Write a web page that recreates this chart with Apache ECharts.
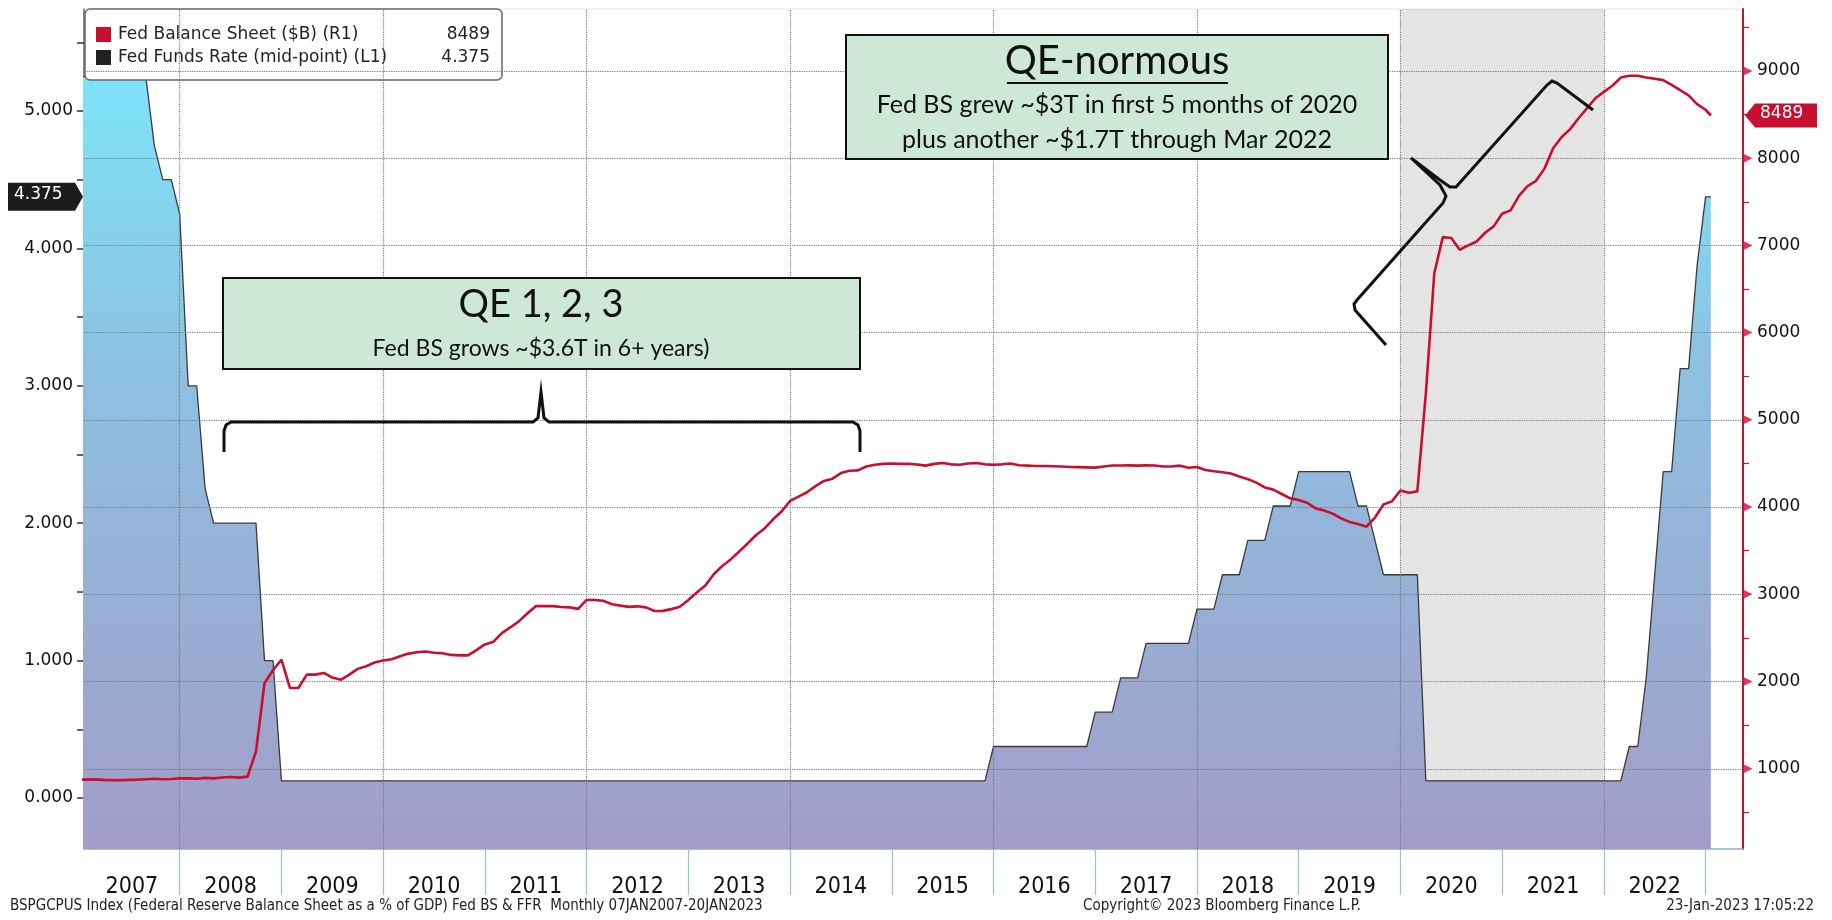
<!DOCTYPE html>
<html>
<head>
<meta charset="utf-8">
<style>
  html, body { margin: 0; padding: 0; background: #fff; }
  #main { width: 1832px; height: 920px; }
</style>
<script src="https://cdn.jsdelivr.net/npm/echarts/dist/echarts.min.js"></script>
</head>
<body>
<div id="main"></div>
<script>
// Fed balance sheet ($B), monthly Jan 2007 - Jan 2023
var bs2007 = [875, 878, 872, 870, 868, 872, 875, 880, 885, 880, 882, 890];
var bs2008 = [890, 885, 895, 890, 900, 905, 898, 910, 1200, 1980, 2130, 2250];
var bs2009 = [1926, 1926, 2079, 2079, 2098, 2045, 2020, 2079, 2145, 2175, 2218, 2240];
var bs2010 = [2255, 2290, 2320, 2335, 2345, 2330, 2325, 2305, 2300, 2300, 2360, 2425];
var bs2011 = [2455, 2555, 2620, 2690, 2780, 2864, 2864, 2864, 2855, 2850, 2833, 2935];
var bs2012 = [2935, 2925, 2885, 2870, 2856, 2862, 2850, 2808, 2810, 2830, 2857, 2935];
var bs2013 = [3020, 3100, 3230, 3325, 3400, 3490, 3583, 3680, 3755, 3860, 3950, 4070];
var bs2014 = [4120, 4170, 4240, 4300, 4326, 4390, 4416, 4421, 4465, 4485, 4495, 4500];
var bs2015 = [4495, 4495, 4488, 4475, 4495, 4505, 4490, 4485, 4500, 4505, 4490, 4485];
var bs2016 = [4490, 4500, 4480, 4475, 4470, 4470, 4468, 4465, 4460, 4458, 4455, 4452];
var bs2017 = [4465, 4477, 4477, 4478, 4475, 4478, 4476, 4465, 4465, 4475, 4450, 4460];
var bs2018 = [4425, 4410, 4400, 4385, 4350, 4320, 4280, 4225, 4200, 4150, 4100, 4080];
var bs2019 = [4050, 3985, 3960, 3925, 3870, 3830, 3805, 3775, 3880, 4030, 4065, 4190];
var bs2020 = [4165, 4180, 5300, 6680, 7095, 7084, 6950, 7000, 7045, 7145, 7218, 7363];
var bs2021 = [7401, 7570, 7680, 7740, 7880, 8110, 8240, 8330, 8455, 8570, 8687, 8760];
var bs2022 = [8830, 8924, 8945, 8945, 8925, 8910, 8895, 8840, 8780, 8720, 8620, 8555];
var bs2023 = [8489];

// Fed funds rate, mid-point of target range (%)
var ffr2007 = [5.25, 5.25, 5.25, 5.25, 5.25, 5.25, 5.25, 5.25, 4.75, 4.5, 4.5, 4.25];
var ffr2008 = [3.0, 3.0, 2.25, 2.0, 2.0, 2.0, 2.0, 2.0, 2.0, 1.0, 1.0, 0.125];
var ffr2009to2014 = 72; // months pinned at 0.125
var ffr2015 = [0.125, 0.125, 0.125, 0.125, 0.125, 0.125, 0.125, 0.125, 0.125, 0.125, 0.125, 0.375];
var ffr2016 = [0.375, 0.375, 0.375, 0.375, 0.375, 0.375, 0.375, 0.375, 0.375, 0.375, 0.375, 0.625];
var ffr2017 = [0.625, 0.625, 0.875, 0.875, 0.875, 1.125, 1.125, 1.125, 1.125, 1.125, 1.125, 1.375];
var ffr2018 = [1.375, 1.375, 1.625, 1.625, 1.625, 1.875, 1.875, 1.875, 2.125, 2.125, 2.125, 2.375];
var ffr2019 = [2.375, 2.375, 2.375, 2.375, 2.375, 2.375, 2.125, 2.125, 1.875, 1.625, 1.625, 1.625];
var ffr2020 = [1.625, 1.625, 0.125, 0.125, 0.125, 0.125, 0.125, 0.125, 0.125, 0.125, 0.125, 0.125];
var ffr2021 = [0.125, 0.125, 0.125, 0.125, 0.125, 0.125, 0.125, 0.125, 0.125, 0.125, 0.125, 0.125];
var ffr2022 = [0.125, 0.125, 0.375, 0.375, 0.875, 1.625, 2.375, 2.375, 3.125, 3.125, 3.875, 4.375];
var ffr2023 = [4.375];

// axis ticks / labels
var yearTicks = [2008, 2009, 2010, 2011, 2012, 2013, 2014, 2015, 2016, 2017, 2018, 2019, 2020, 2021, 2022, 2023];
var yearLabels = [2007.53, 2008.5, 2009.5, 2010.5, 2011.5, 2012.5, 2013.5, 2014.5, 2015.5, 2016.5, 2017.5, 2018.5, 2019.5, 2020.5, 2021.5, 2022.5];
var gridYears = [2008, 2010, 2012, 2014, 2016, 2018, 2020, 2022];
var leftLabels = [0, 1, 2, 3, 4, 5];
var leftTicks = [0, 0.5, 1, 1.5, 2, 2.5, 3, 3.5, 4, 4.5, 5, 5.5];
var rightLabels = [1000, 2000, 3000, 4000, 5000, 6000, 7000, 8000, 9000];
var rightMinor = [500, 1500, 2500, 3500, 4500, 5500, 6500, 7500, 8500, 9500];
var shadeRange = [2020, 2022];

var bsName = 'Fed Balance Sheet ($B) (R1)';
var ffrName = 'Fed Funds Rate (mid-point) (L1)';

var X_MIN = 2007.059, X_MAX = 2023.368;
var RED = '#c8102e';

// join the years
var bsData = [].concat(bs2007, bs2008, bs2009, bs2010, bs2011, bs2012, bs2013, bs2014,
    bs2015, bs2016, bs2017, bs2018, bs2019, bs2020, bs2021, bs2022, bs2023);
var ffrMid = [];
for (var k = 0; k < ffr2009to2014; k++) {
    ffrMid.push(0.125);
}
var ffrData = [].concat(ffr2007, ffr2008, ffrMid, ffr2015, ffr2016, ffr2017, ffr2018,
    ffr2019, ffr2020, ffr2021, ffr2022, ffr2023);

// month-end dates as decimal years (first 07JAN2007, last 20JAN2023)
var dates = [];
for (var i = 0; i < bsData.length; i++) {
    var yr = 2007 + Math.floor(i / 12);
    dates.push(yr + (i % 12 + 1) / 12);
}
dates[0] = 2007 + 6 / 365;
dates[dates.length - 1] = 2023 + 19 / 365;

var bsSeries = [], ffrSeries = [];
for (var j = 0; j < dates.length; j++) {
    bsSeries.push([dates[j], bsData[j]]);
    ffrSeries.push([dates[j], ffrData[j]]);
}
var lastBS = bsData[bsData.length - 1];
var lastFFR = ffrData[ffrData.length - 1];

var tri = rightLabels.map(function (v) { return [X_MAX, v]; });
var gridLines = gridYears.map(function (v) { return { xAxis: v }; })
    .concat(rightLabels.map(function (v) { return { yAxis: v }; }));

var chart = echarts.init(document.getElementById('main'));

var sansFont = 'DejaVu Sans';
var narrowFont = '"Liberation Sans Narrow", "DejaVu Sans Condensed", sans-serif';

var option = {
    animation: false,
    backgroundColor: '#fff',
    grid: {
        left: 84, right: 89, top: 9, bottom: 71,
        show: true, borderColor: '#e4e4e4', borderWidth: 1, backgroundColor: 'transparent'
    },
    legend: {
        left: 85, top: 9,
        orient: 'vertical',
        padding: [17, 12, 14, 11],
        itemGap: 6,
        itemWidth: 15, itemHeight: 15,
        backgroundColor: '#fff',
        borderColor: '#666', borderWidth: 1.5, borderRadius: 5,
        selectedMode: false,
        data: [
            { name: bsName, icon: 'rect', itemStyle: { color: RED, borderWidth: 0 } },
            { name: ffrName, icon: 'rect', itemStyle: { color: '#222', borderWidth: 0 } }
        ],
        formatter: function (name) {
            var v = name === bsName ? lastBS : lastFFR;
            return '{n|' + name + '}{v|' + v + '}';
        },
        textStyle: {
            rich: {
                n: { fontFamily: sansFont, fontSize: 17, color: '#222', width: 314, padding: [0, 0, 0, 2] },
                v: { fontFamily: sansFont, fontSize: 17, color: '#222', width: 58, align: 'right' }
            }
        }
    },
    xAxis: {
        type: 'value',
        min: X_MIN, max: X_MAX,
        axisLine: { onZero: false, lineStyle: { color: '#8fb3dc', width: 1.5 } },
        axisTick: { show: true, customValues: yearTicks, length: 46, lineStyle: { color: '#9dbde0', width: 1.2 } },
        axisLabel: {
            customValues: yearLabels,
            margin: 27,
            fontFamily: narrowFont, fontSize: 23, color: '#111',
            formatter: function (v) { return String(Math.floor(v)); }
        },
        splitLine: { show: false }
    },
    yAxis: [
        {
            type: 'value',
            position: 'left',
            min: -0.371, max: 5.742,
            axisLine: { show: true, onZero: false, lineStyle: { color: '#666', width: 1.5 } },
            axisTick: { show: true, customValues: leftTicks, length: 7, lineStyle: { color: '#333', width: 1.5 } },
            axisLabel: {
                customValues: leftLabels,
                margin: 11,
                fontFamily: sansFont, fontSize: 17, color: '#111',
                formatter: function (v) { return v.toFixed(3); }
            },
            splitLine: { show: false }
        },
        {
            type: 'value',
            position: 'right',
            min: 80, max: 9710,
            axisLine: { show: true, onZero: false, lineStyle: { color: RED, width: 2 } },
            axisTick: { show: true, customValues: rightMinor, length: 6, lineStyle: { color: RED, width: 1.2 } },
            axisLabel: {
                customValues: rightLabels,
                margin: 14,
                fontFamily: sansFont, fontSize: 17, color: '#111',
                formatter: function (v) { return String(v); }
            },
            splitLine: { show: false }
        }
    ],
    series: [
        {
            // FFR area
            name: ffrName,
            type: 'line',
            yAxisIndex: 0,
            data: ffrSeries,
            symbol: 'none',
            z: 2,
            lineStyle: { color: '#3a3a3a', width: 1.3 },
            itemStyle: { color: '#222' },
            areaStyle: {
                origin: 'start',
                opacity: 1,
                color: new echarts.graphic.LinearGradient(0, 9, 0, 849, [
                    { offset: 0, color: '#7aebfe' },
                    { offset: 0.45, color: '#8ebfe0' },
                    { offset: 1, color: '#a29dc8' }
                ], true)
            }
        },
        {
            // grid lines + 2020-2021 shading
            name: 'grid',
            type: 'line',
            yAxisIndex: 1,
            data: [],
            z: 3,
            silent: true,
            markArea: {
                silent: true,
                itemStyle: { color: 'rgba(0,0,0,0.105)' },
                data: [[{ xAxis: shadeRange[0] }, { xAxis: shadeRange[1] }]]
            },
            markLine: {
                silent: true,
                symbol: ['none', 'none'],
                label: { show: false },
                lineStyle: { color: '#777', type: 'dotted', width: 1.2 },
                data: gridLines
            }
        },
        {
            name: bsName,
            type: 'line',
            yAxisIndex: 1,
            data: bsSeries,
            symbol: 'none',
            z: 5,
            lineStyle: { color: RED, width: 2.6 },
            itemStyle: { color: RED }
        },
        {
            // triangle ticks on the right axis
            name: 'rticks',
            type: 'scatter',
            yAxisIndex: 1,
            data: tri,
            symbol: 'triangle',
            symbolRotate: -90,
            symbolSize: [9, 9],
            symbolOffset: [5, 0],
            clip: false,
            silent: true,
            z: 6,
            itemStyle: { color: RED }
        }
    ]
};
chart.setOption(option);

// last-value tags, placed from the axes' own scales
var yL = chart.convertToPixel({ yAxisIndex: 0 }, lastFFR);
var yR = chart.convertToPixel({ yAxisIndex: 1 }, lastBS);
var annoFont = 'Lato, "Open Sans", sans-serif';
var footFont = '15px "DejaVu Sans Condensed", "DejaVu Sans"';

chart.setOption({
    graphic: [
        // left tag
        {
            type: 'polygon', z: 100,
            shape: { points: [[8, yL - 14], [75, yL - 14], [83, yL], [75, yL + 14], [8, yL + 14]] },
            style: { fill: '#1c1c1c' }
        },
        {
            type: 'text', z: 101, left: 14, top: yL - 11,
            style: { text: String(lastFFR), fill: '#fff', font: '17px "DejaVu Sans"' }
        },
        // right tag
        {
            type: 'polygon', z: 100,
            shape: { points: [[1745, yR], [1755, yR - 12], [1817, yR - 12], [1817, yR + 12], [1755, yR + 12]] },
            style: { fill: RED }
        },
        {
            type: 'text', z: 101, left: 1760, top: yR - 10,
            style: { text: String(lastBS), fill: '#fff', font: '17px "DejaVu Sans"' }
        },
        // QE 1,2,3 box
        {
            type: 'rect', z: 90,
            shape: { x: 223, y: 278, width: 637, height: 91 },
            style: { fill: '#cde8d7', stroke: '#111', lineWidth: 2 }
        },
        {
            type: 'text', z: 91, x: 541, y: 305,
            style: { text: 'QE 1, 2, 3', fill: '#111', font: '38px ' + annoFont, align: 'center', verticalAlign: 'middle' }
        },
        {
            type: 'text', z: 91, x: 541, y: 349,
            style: { text: 'Fed BS grows ~$3.6T in 6+ years)', fill: '#111', font: '23px ' + annoFont, align: 'center', verticalAlign: 'middle' }
        },
        {
            type: 'polyline', z: 90,
            shape: { points: [[224, 452], [224, 431], [226, 425], [231, 422], [533, 422], [538, 418], [541, 392],
                [544, 418], [549, 422], [853, 422], [858, 425], [860, 431], [860, 452]] },
            style: { stroke: '#111', lineWidth: 3, fill: null }
        },
        // QE-normous box
        {
            type: 'rect', z: 90,
            shape: { x: 846, y: 35, width: 542, height: 124 },
            style: { fill: '#cde8d7', stroke: '#111', lineWidth: 2 }
        },
        {
            type: 'text', z: 91, x: 1117, y: 61,
            style: { text: 'QE-normous', fill: '#111', font: '40px ' + annoFont, align: 'center', verticalAlign: 'middle' }
        },
        {
            type: 'line', z: 91,
            shape: { x1: 1007, y1: 83, x2: 1228, y2: 83 },
            style: { stroke: '#111', lineWidth: 2 }
        },
        {
            type: 'text', z: 91, x: 1117, y: 105,
            style: { text: 'Fed BS grew ~$3T in first 5 months of 2020', fill: '#111', font: '25px ' + annoFont, align: 'center', verticalAlign: 'middle' }
        },
        {
            type: 'text', z: 91, x: 1117, y: 140,
            style: { text: 'plus another ~$1.7T through Mar 2022', fill: '#111', font: '25px ' + annoFont, align: 'center', verticalAlign: 'middle' }
        },
        {
            type: 'polyline', z: 90,
            shape: { points: [[1386, 345], [1355, 310], [1354, 304], [1357, 300], [1443, 203], [1446, 196], [1440, 185],
                [1411, 158], [1440, 180], [1450, 187], [1456, 187], [1547, 85], [1552, 81], [1557, 83], [1593, 110]] },
            style: { stroke: '#111', lineWidth: 3, fill: null }
        },
        // footer
        {
            type: 'text', left: 10, top: 899,
            style: { text: 'BSPGCPUS Index (Federal Reserve Balance Sheet as a % of GDP) Fed BS & FFR  Monthly 07JAN2007-20JAN2023',
                fill: '#222', font: footFont }
        },
        {
            type: 'text', left: 1083, top: 899,
            style: { text: 'Copyright\u00a9 2023 Bloomberg Finance L.P.', fill: '#222', font: footFont }
        },
        {
            type: 'text', right: 18, top: 899,
            style: { text: '23-Jan-2023 17:05:22', fill: '#222', font: footFont }
        }
    ]
});
</script>
</body>
</html>
